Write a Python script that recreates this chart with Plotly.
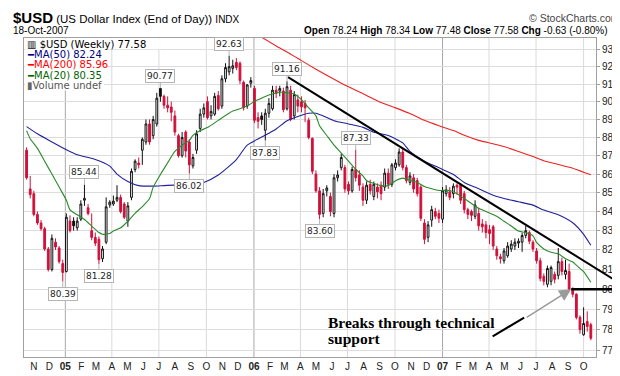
import math
import pandas as pd
import plotly.graph_objects as go

# ---------------- data (weekly US Dollar Index) ----------------
week_start = "2004-10-18"
n_weeks = 157

opens = [87.30, 85.20, 84.95, 83.85, 83.40, 83.10, 82.05, 81.00, 82.40, 82.10,
         81.30, 80.90, 83.50, 83.50, 83.15, 83.60, 84.60, 84.20, 83.00, 82.65,
         82.55, 81.55, 82.40, 84.35, 84.40, 84.60, 84.75, 84.40, 83.50, 84.75,
         86.25, 86.60, 87.30, 87.75, 88.75, 88.10, 88.75, 90.75, 90.30, 89.80,
         89.70, 89.20, 88.10, 87.00, 88.30, 87.75, 86.45, 87.30, 88.50, 89.30,
         90.00, 89.20, 89.30, 90.35, 89.75, 91.30, 91.70, 91.90, 92.25, 92.20,
         91.10, 89.75, 91.05, 90.75, 89.10, 89.20, 88.40, 89.35, 89.60, 90.65,
         90.60, 90.60, 89.60, 90.65, 89.20, 90.10, 90.00, 89.90, 88.95, 87.95,
         86.00, 85.10, 83.90, 85.10, 84.80, 83.90, 85.80, 86.35, 86.35, 85.45,
         85.10, 86.25, 85.95, 85.30, 84.60, 85.45, 84.80, 85.30, 85.40, 85.30,
         86.05, 85.45, 86.35, 86.50, 87.20, 86.35, 85.55, 85.80, 85.65, 85.30,
         83.40, 82.65, 83.55, 84.00, 83.90, 83.60, 84.95, 85.05, 84.95, 85.40,
         85.40, 84.95, 84.10, 84.00, 83.75, 83.90, 83.35, 83.30, 83.05, 83.20,
         82.05, 81.65, 81.45, 81.70, 82.05, 82.20, 82.35, 82.40, 82.75, 82.90,
         82.40, 81.95, 81.45, 80.65, 80.25, 80.40, 80.75, 80.70, 81.40, 80.75,
         80.90, 80.00, 79.75, 78.60, 77.75, 78.40, 78.24]
highs = [87.45, 85.90, 85.10, 84.00, 83.55, 83.20, 82.15, 82.80, 82.60, 82.20,
         81.50, 83.90, 83.80, 83.70, 83.70, 84.60, 85.44, 84.40, 83.90, 82.90,
         82.70, 82.20, 84.75, 84.60, 84.85, 85.40, 84.90, 84.50, 84.50, 86.30,
         86.80, 86.90, 88.00, 89.00, 89.00, 89.20, 90.50, 90.77, 90.40, 90.30,
         90.00, 89.50, 88.20, 88.30, 88.40, 87.90, 87.10, 88.40, 89.60, 89.90,
         90.30, 89.80, 90.50, 90.60, 91.50, 92.20, 92.63, 92.40, 92.50, 92.30,
         91.20, 91.00, 91.40, 90.90, 89.40, 89.40, 89.60, 90.20, 90.90, 90.90,
         90.90, 90.80, 91.16, 90.90, 90.60, 90.40, 90.30, 90.10, 89.10, 88.00,
         86.20, 85.30, 85.20, 85.40, 85.00, 86.00, 86.20, 87.10, 86.50, 85.60,
         86.40, 87.33, 86.20, 85.50, 85.60, 85.70, 85.60, 85.50, 85.60, 86.30,
         86.30, 86.60, 86.80, 87.40, 87.40, 86.50, 86.10, 86.00, 85.80, 85.40,
         83.60, 83.50, 84.30, 84.20, 84.10, 85.30, 85.40, 85.30, 85.50, 85.50,
         85.50, 85.10, 84.20, 84.10, 84.60, 84.20, 83.60, 83.50, 83.30, 83.30,
         82.20, 81.80, 82.10, 82.40, 82.50, 82.60, 82.60, 82.90, 83.25, 83.00,
         82.50, 82.10, 81.60, 80.80, 81.20, 81.20, 80.90, 82.10, 81.60, 81.50,
         81.30, 80.10, 79.80, 78.70, 79.10, 78.90, 78.34]
lows = [85.70, 84.70, 83.75, 83.30, 83.00, 81.95, 80.90, 80.90, 82.00, 81.30,
        80.39, 80.85, 82.90, 83.00, 83.00, 83.50, 84.30, 83.80, 82.50, 82.20,
        81.28, 81.38, 82.30, 84.20, 84.30, 84.50, 83.90, 83.60, 83.20, 84.60,
        86.10, 86.30, 86.50, 87.60, 87.60, 87.90, 88.60, 90.00, 89.60, 89.40,
        88.90, 88.10, 86.90, 86.90, 86.90, 86.02, 86.30, 87.10, 88.30, 89.10,
        89.00, 89.00, 89.20, 89.50, 89.60, 91.10, 91.50, 91.60, 91.80, 91.00,
        89.50, 89.60, 90.80, 88.80, 88.50, 88.70, 87.83, 89.10, 89.50, 90.20,
        90.30, 89.40, 89.50, 88.90, 89.00, 89.40, 89.40, 88.85, 87.90, 86.00,
        85.00, 83.60, 83.70, 84.80, 83.75, 83.70, 85.60, 86.20, 85.00, 84.90,
        85.00, 85.60, 85.10, 84.30, 84.40, 84.90, 84.60, 84.70, 84.60, 85.10,
        85.20, 85.30, 86.20, 86.40, 86.20, 85.50, 85.40, 85.00, 84.80, 83.50,
        82.30, 82.40, 83.20, 83.60, 83.40, 83.40, 84.80, 84.60, 84.70, 84.90,
        84.40, 83.90, 83.60, 83.50, 83.60, 83.00, 82.90, 82.60, 82.30, 82.00,
        81.50, 81.30, 81.30, 81.60, 81.90, 82.00, 82.10, 81.90, 82.60, 82.30,
        81.90, 81.30, 80.40, 80.20, 80.10, 80.20, 80.30, 80.50, 80.70, 80.50,
        79.95, 79.60, 78.50, 77.80, 77.70, 77.90, 77.48]
closes = [85.80, 84.90, 83.85, 83.40, 83.10, 82.05, 81.00, 82.60, 82.15, 81.40,
          80.85, 83.70, 83.00, 83.25, 83.50, 84.40, 84.70, 83.90, 82.65, 82.35,
          81.50, 82.05, 84.25, 84.50, 84.55, 84.75, 84.00, 83.70, 84.30, 86.15,
          86.70, 86.50, 87.90, 88.75, 87.75, 89.00, 90.20, 90.30, 89.80, 89.65,
          89.40, 88.30, 87.00, 88.00, 87.25, 86.50, 86.90, 88.20, 89.30, 89.65,
          89.10, 89.45, 90.30, 89.60, 91.30, 91.95, 92.00, 92.05, 91.95, 91.20,
          89.65, 90.95, 91.20, 88.95, 88.90, 89.00, 89.35, 89.90, 90.65, 90.50,
          90.75, 89.55, 90.85, 89.00, 90.40, 89.75, 89.70, 89.65, 88.00, 86.15,
          85.10, 83.85, 84.95, 85.25, 84.00, 85.80, 85.95, 86.90, 85.20, 85.10,
          86.25, 85.80, 85.40, 84.60, 85.40, 85.10, 85.45, 85.05, 84.95, 86.05,
          85.45, 86.50, 86.60, 87.20, 86.35, 85.65, 85.90, 85.20, 84.95, 83.65,
          82.55, 83.30, 84.10, 83.75, 83.65, 85.10, 85.15, 84.75, 85.35, 85.30,
          84.60, 84.10, 83.85, 83.80, 84.35, 83.25, 83.20, 82.90, 82.85, 82.20,
          81.70, 81.55, 81.95, 82.20, 82.30, 82.40, 82.45, 82.75, 83.00, 82.45,
          82.05, 81.45, 80.55, 80.40, 81.05, 81.10, 80.50, 81.40, 80.90, 80.95,
          80.00, 79.75, 78.60, 78.00, 78.30, 78.15, 77.58]

# moving averages (week index, value)
ma50_idx = [0, 3, 7, 11, 14, 19, 23, 25, 28, 31, 35, 38, 42, 46, 49, 53, 58, 61, 65, 69,
            72, 76, 78, 80, 82, 85, 89, 93, 96, 100, 104, 106, 110, 114, 118, 121, 125,
            129, 132, 136, 140, 143, 147, 151, 154, 156]
ma50_val = [88.60, 88.20, 87.75, 87.32, 87.05, 86.79, 86.43, 86.00, 85.60, 85.38, 85.35,
            85.38, 85.42, 85.40, 85.55, 85.95, 86.79, 87.58, 88.02, 88.47, 88.93, 89.24,
            89.35, 89.35, 89.20, 88.93, 88.75, 88.56, 88.29, 88.11, 87.70, 87.23, 86.70,
            86.34, 85.98, 85.55, 85.21, 84.86, 84.69, 84.52, 84.34, 84.08, 83.83, 83.41,
            82.81, 82.24]
ma200_idx = [64, 69, 72, 76, 80, 83, 87, 91, 94, 98, 102, 106, 110, 114, 118, 121, 125,
             129, 132, 136, 140, 143, 147, 151, 154, 156]
ma200_val = [93.85, 93.20, 92.85, 92.35, 91.85, 91.50, 91.05, 90.65, 90.35, 89.95, 89.65,
             89.33, 88.95, 88.65, 88.38, 88.12, 87.84, 87.65, 87.50, 87.23, 86.95, 86.72,
             86.52, 86.32, 86.10, 85.96]
ma20_idx = [0, 1, 3, 5, 7, 9, 11, 12, 14, 16, 18, 20, 21, 23, 24, 26, 28, 30, 32, 34, 35,
            37, 39, 41, 43, 45, 46, 48, 50, 53, 57, 61, 63, 65, 67, 69, 70, 72, 74, 76, 78,
            80, 81, 83, 85, 87, 89, 91, 93, 94, 96, 98, 100, 102, 104, 106, 108, 110, 112,
            114, 117, 119, 121, 123, 125, 127, 128, 130, 132, 134, 136, 138, 140, 141, 143,
            145, 147, 149, 151, 152, 154, 156]
ma20_val = [88.38, 87.93, 87.40, 86.70, 86.00, 85.30, 84.60, 84.09, 83.83, 83.58, 83.24,
            82.90, 82.81, 82.85, 82.98, 83.15, 83.49, 83.91, 84.26, 84.69, 85.30, 85.98,
            86.61, 87.23, 87.58, 87.84, 88.11, 88.38, 88.55, 88.95, 89.47, 89.75, 90.02,
            90.20, 90.38, 90.48, 90.53, 90.51, 90.44, 90.11, 89.65, 89.20, 88.65, 88.11,
            87.58, 87.14, 86.70, 86.25, 85.90, 85.64, 85.50, 85.38, 85.38, 85.64, 85.78,
            85.67, 85.55, 85.33, 85.21, 85.12, 85.12, 84.95, 84.69, 84.43, 84.17, 84.00,
            83.92, 83.75, 83.49, 83.24, 82.98, 82.90, 82.73, 82.39, 82.05, 81.88, 81.80,
            81.55, 81.38, 81.22, 80.89, 80.35]

# value call-outs (week index, value)
label_idx = [10, 16, 20, 37, 45, 56, 66, 72, 81, 91]
label_val = [80.39, 85.44, 81.28, 90.77, 86.02, 92.63, 87.83, 91.16, 83.60, 87.33]

month_letters = ["J", "F", "M", "A", "M", "J", "J", "A", "S", "O", "N", "D"]
y_ticks = list(range(77, 94))

# ---------------- figure ----------------
weeks = pd.date_range(week_start, periods=n_weeks, freq="7D")
X0, X1 = pd.Timestamp("2004-10-13"), pd.Timestamp("2007-10-25")
Y0L, Y1L = math.log10(76.67), math.log10(93.67)

L, R, T, B, W, H = 16, 32, 30, 18, 620, 376
PW, PH = W - L - R, H - T - B


def px(xpix):
    return (xpix - L) / PW


def py(ypix):
    return (H - B - ypix) / PH


def xp(d):
    return (pd.Timestamp(d) - X0) / (X1 - X0)


def yp(v):
    return (math.log10(v) - Y0L) / (Y1L - Y0L)


RED = "#d0103a"
BLACK = "#111111"

prev_close = [opens[0]] + closes[:-1]
groups = {
    BLACK: [i for i in range(n_weeks) if closes[i] >= prev_close[i]],
    RED: [i for i in range(n_weeks) if closes[i] < prev_close[i]],
}

fig = go.Figure()

for col, idx in groups.items():
    fig.add_trace(go.Candlestick(
        x=[weeks[i] for i in idx],
        open=[opens[i] for i in idx], high=[highs[i] for i in idx],
        low=[lows[i] for i in idx], close=[closes[i] for i in idx],
        increasing=dict(line=dict(color=col, width=1), fillcolor="white"),
        decreasing=dict(line=dict(color=col, width=1), fillcolor=col),
        whiskerwidth=0, hoverinfo="skip", showlegend=False,
    ))

for idx, val, col in [(ma200_idx, ma200_val, "#ee2222"),
                      (ma50_idx, ma50_val, "#22229a"),
                      (ma20_idx, ma20_val, "#2a8a2a")]:
    fig.add_trace(go.Scatter(
        x=[weeks[i] for i in idx], y=val, mode="lines",
        line=dict(color=col, width=1.1, shape="spline", smoothing=0.6),
        hoverinfo="skip", showlegend=False,
    ))

# month ticks
month_starts = pd.date_range("2004-11-01", "2007-10-01", freq="MS")
month_text = [("<b>%02d</b>" % (d.year % 100)) if d.month == 1 else month_letters[d.month - 1]
              for d in month_starts]

shapes = []
for d in month_starts:
    if d.month in (1, 4, 7, 10):
        shapes.append(dict(type="line", xref="x", yref="paper", x0=d, x1=d, y0=0, y1=1,
                           layer="below",
                           line=dict(color="#a9a9a9" if d.month == 1 else "#d9d9d9", width=1)))

# white backing of the legend block
shapes.append(dict(type="rect", xref="paper", yref="paper", x0=px(17), x1=px(153),
                   y0=py(41.5), y1=py(30.6), layer="above", line=dict(width=0),
                   fillcolor="white"))
shapes.append(dict(type="rect", xref="paper", yref="paper", x0=px(17), x1=px(96),
                   y0=py(84), y1=py(41.5), layer="above", line=dict(width=0),
                   fillcolor="white"))

# trend line, support line, call-out line
shapes.append(dict(type="line", xref="paper", yref="paper",
                   x0=xp("2006-03-08"), y0=yp(91.4), x1=xp("2007-12-26"), y1=yp(80.05),
                   line=dict(color="black", width=2)))
shapes.append(dict(type="line", xref="paper", yref="paper",
                   x0=xp("2007-09-07"), y0=yp(80.0), x1=xp("2007-12-16"), y1=yp(80.0),
                   line=dict(color="black", width=2.5)))
shapes.append(dict(type="line", xref="paper", yref="paper",
                   x0=xp("2007-04-08"), y0=yp(77.67), x1=xp("2007-06-08"), y1=yp(78.59),
                   line=dict(color="black", width=2)))

ann = []
SANS = "Liberation Sans, Arial, sans-serif"
VERD = "DejaVu Sans, Verdana, sans-serif"

# value call-outs
for i, v in zip(label_idx, label_val):
    above = abs(highs[i] - v) < abs(lows[i] - v)
    ann.append(dict(x=weeks[i], y=math.log10(v), xref="x", yref="y", text=f"{v:.2f}",
                    showarrow=True, arrowhead=0, arrowwidth=1, arrowcolor="#b5b5b5",
                    ax=0, ay=-12 if above else 12, standoff=0,
                    bgcolor="white", bordercolor="#b5b5b5", borderwidth=1, borderpad=1,
                    font=dict(family=VERD, size=9, color="#222")))

# gray arrow
ann.append(dict(x=xp("2007-09-07"), y=yp(80.0), xref="paper", yref="paper", text="",
                showarrow=True, ax=-46, ay=29, arrowhead=2, arrowsize=1.6, arrowwidth=1.5,
                arrowcolor="#9a9a9a", standoff=0))
# call-out text
SERIF = "Liberation Serif, Times New Roman, serif"
ann.append(dict(x=px(318), y=py(323), xref="paper", yref="paper", xanchor="left",
                yanchor="middle", showarrow=False, text="<b>Breaks through technical</b>",
                font=dict(family=SERIF, size=15.5, color="black")))
ann.append(dict(x=px(318), y=py(338.5), xref="paper", yref="paper", xanchor="left",
                yanchor="middle", showarrow=False, text="<b>support</b>",
                font=dict(family=SERIF, size=15.5, color="black")))

# header
ann.append(dict(x=px(3), y=py(9), xref="paper", yref="paper", xanchor="left",
                yanchor="middle", showarrow=False,
                text="<b><span style='font-size:15px'>$USD</span></b> (US Dollar Index (End of Day)) "
                     "<span style='font-size:10px'>INDX</span>",
                font=dict(family=SANS, size=11.5, color="black")))
ann.append(dict(x=px(614), y=py(9), xref="paper", yref="paper", xanchor="right",
                yanchor="middle", showarrow=False, text="© StockCharts.com",
                font=dict(family=SANS, size=10.5, color="#444")))
ann.append(dict(x=px(3), y=py(22), xref="paper", yref="paper", xanchor="left",
                yanchor="middle", showarrow=False, text="18-Oct-2007",
                font=dict(family=SANS, size=10, color="black")))
ann.append(dict(x=px(602), y=py(22), xref="paper", yref="paper", xanchor="right",
                yanchor="middle", showarrow=False,
                text=f"<b>Open</b> {opens[-1]:.2f} <b>High</b> {highs[-1]:.2f} "
                     f"<b>Low</b> {lows[-1]:.2f} <b>Close</b> {closes[-1]:.2f} "
                     f"<b>Chg</b> -0.63 (-0.80%)",
                font=dict(family=SANS, size=10, color="black")))
ann.append(dict(x=px(608), y=py(22), xref="paper", yref="paper", xanchor="center",
                yanchor="middle", showarrow=False, text="▼",
                font=dict(family=VERD, size=8, color="#cc0000")))

# legend block
legend_rows = [
    ("<span style='color:#000'>▥</span> $USD (Weekly) %.2f" % closes[-1], "#000000"),
    ("<span style='color:#000080'>━</span>MA(50) %.2f" % ma50_val[-1], "#000080"),
    ("<span style='color:#ff0000'>━</span>MA(200) %.2f" % ma200_val[-1], "#ff0000"),
    ("<span style='color:#006400'>━</span>MA(20) %.2f" % ma20_val[-1], "#006400"),
    ("<span style='color:#666'>▮</span>Volume undef", "#555555"),
]
for k, (txt, col) in enumerate(legend_rows):
    ann.append(dict(x=px(18), y=py(36.5 + 10.6 * k), xref="paper", yref="paper",
                    xanchor="left", yanchor="middle", showarrow=False, text=txt,
                    borderpad=0, font=dict(family=VERD, size=10, color=col)))

fig.update_layout(
    width=W, height=H, margin=dict(l=L, r=R, t=T, b=B),
    paper_bgcolor="white", plot_bgcolor="white", showlegend=False,
    shapes=shapes, annotations=ann,
    xaxis=dict(type="date", range=[X0, X1], rangeslider=dict(visible=False),
               tickvals=list(month_starts), ticktext=month_text, showgrid=False,
               showline=True, mirror=True, linecolor="#a0a0a0", ticks="",
               tickfont=dict(family=SANS, size=10, color="#222"), fixedrange=True),
    yaxis=dict(type="log", range=[Y0L, Y1L], side="right", tickvals=y_ticks,
               ticktext=[str(v) for v in y_ticks], gridcolor="#dcdcdc", showline=True,
               mirror=True, linecolor="#a0a0a0", ticks="outside", ticklen=3,
               tickcolor="#a0a0a0", zeroline=False,
               tickfont=dict(family=SANS, size=10, color="#222"), fixedrange=True),
)

fig.write_html("out.html")
